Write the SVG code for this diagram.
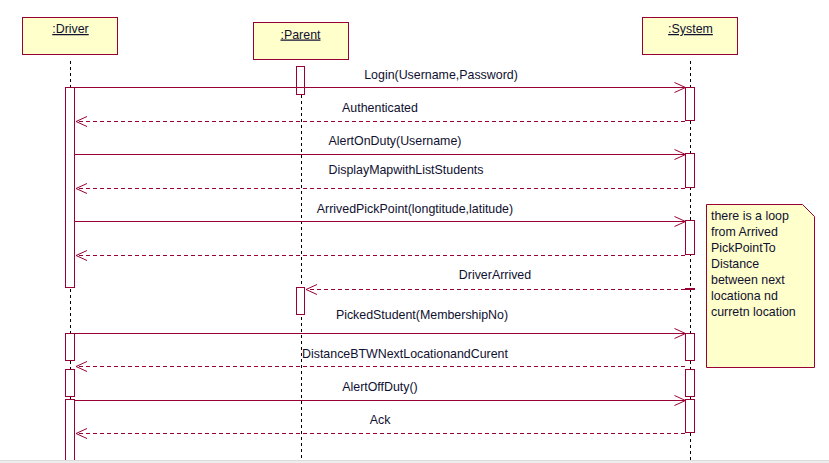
<svg xmlns="http://www.w3.org/2000/svg" width="829" height="463" viewBox="0 0 829 463">
<style>
text{font-family:"Liberation Sans",Arial,sans-serif;font-size:12.4px;fill:#101030}
.obj{fill:#FFFFCC;stroke:#990033;stroke-width:1}
.act{fill:#fff;stroke:#990033;stroke-width:1}
.life{stroke:#000;stroke-width:1;stroke-dasharray:3 3;fill:none}
.msg{stroke:#990033;stroke-width:1;fill:none}
.ret{stroke:#990033;stroke-width:1;fill:none;stroke-dasharray:4 3}
.hd{text-anchor:middle;text-decoration:underline}
.lbl{text-anchor:middle}
</style>
<defs>
<marker id="open" markerWidth="14" markerHeight="12" refX="12" refY="6" orient="auto" markerUnits="userSpaceOnUse">
<path d="M1,1 L12,6 L1,11" fill="none" stroke="#990033" stroke-width="1"/>
</marker>
</defs>
<rect width="829" height="463" fill="#fff"/>
<g id="lifelines">
<line class="life" x1="70.5" y1="61" x2="70.5" y2="460"/>
<line class="life" x1="301.5" y1="95" x2="301.5" y2="460"/>
<line class="life" x1="690.5" y1="61" x2="690.5" y2="460"/>
</g>
<g id="driver">
<rect class="obj" x="22.5" y="17.5" width="95" height="37"/>
<text class="hd" x="70.5" y="33">:Driver</text>
<rect class="act" x="65.5" y="87.5" width="9" height="200"/>
<rect class="act" x="65.5" y="333.5" width="9" height="27"/>
<rect class="act" x="65.5" y="369.5" width="9" height="27"/>
<rect class="act" x="65.5" y="399.5" width="9" height="70"/>
</g>
<g id="parent">
<rect class="obj" x="253.5" y="22.5" width="95" height="37"/>
<text class="hd" x="300.5" y="38.5">:Parent</text>
<rect class="act" x="296.5" y="66.5" width="8" height="28"/>
<rect class="act" x="296.5" y="287.5" width="8" height="27"/>
</g>
<g id="system">
<rect class="obj" x="642.5" y="17.5" width="95" height="37"/>
<text class="hd" x="690.5" y="33">:System</text>
<rect class="act" x="685.5" y="87.5" width="9" height="33"/>
<rect class="act" x="685.5" y="153.5" width="9" height="34"/>
<rect class="act" x="685.5" y="220.5" width="9" height="34"/>
<rect class="act" x="685.5" y="333.5" width="9" height="27"/>
<rect class="act" x="685.5" y="369.5" width="9" height="27"/>
<rect class="act" x="685.5" y="399.5" width="9" height="33"/>
<line x1="685" y1="289" x2="695" y2="289" stroke="#990033" stroke-width="2"/>
</g>
<g id="note">
<path d="M706.5,204.5 H802.5 L814.5,216.5 V367.5 H706.5 Z" fill="#FFFFCC" stroke="#990033" stroke-width="1"/>
<text x="711" y="220">there is a loop</text>
<text x="711" y="236">from Arrived</text>
<text x="711" y="252">PickPointTo</text>
<text x="711" y="268">Distance</text>
<text x="711" y="284">between next</text>
<text x="711" y="300">locationa nd</text>
<text x="711" y="316">curretn location</text>
</g>
<g id="connectors">
<line class="msg" x1="74.5" y1="87.5" x2="685.5" y2="87.5" marker-end="url(#open)"/>
<line class="ret" x1="685" y1="121.5" x2="76" y2="121.5" marker-end="url(#open)"/>
<line class="msg" x1="74.5" y1="154.5" x2="685.5" y2="154.5" marker-end="url(#open)"/>
<line class="ret" x1="685" y1="188.5" x2="76" y2="188.5" marker-end="url(#open)"/>
<line class="msg" x1="74.5" y1="221.5" x2="685.5" y2="221.5" marker-end="url(#open)"/>
<line class="ret" x1="685" y1="255.5" x2="76" y2="255.5" marker-end="url(#open)"/>
<line class="ret" x1="685" y1="289.5" x2="306" y2="289.5" marker-end="url(#open)"/>
<line class="msg" x1="74.5" y1="333.5" x2="685.5" y2="333.5" marker-end="url(#open)"/>
<line class="ret" x1="685" y1="366.5" x2="76" y2="366.5" marker-end="url(#open)"/>
<line class="msg" x1="74.5" y1="400.5" x2="685.5" y2="400.5" marker-end="url(#open)"/>
<line class="ret" x1="685" y1="433.5" x2="76" y2="433.5" marker-end="url(#open)"/>
<text class="lbl" x="441" y="79">Login(Username,Password)</text>
<text class="lbl" x="380" y="111.5">Authenticated</text>
<text class="lbl" x="395" y="145">AlertOnDuty(Username)</text>
<text class="lbl" x="406" y="174">DisplayMapwithListStudents</text>
<text class="lbl" x="415" y="212.5">ArrivedPickPoint(longtitude,latitude)</text>
<text class="lbl" x="495" y="278.5">DriverArrived</text>
<text class="lbl" x="422" y="318.5">PickedStudent(MembershipNo)</text>
<text class="lbl" x="405" y="358">DistanceBTWNextLocationandCurent</text>
<text class="lbl" x="380" y="391">AlertOffDuty()</text>
<text class="lbl" x="380" y="423.5">Ack</text>
</g>
<rect x="0" y="460" width="829" height="3" fill="#ededed"/>
<line x1="0" y1="460.5" x2="829" y2="460.5" stroke="#dcdcdc" stroke-width="1"/>
</svg>
